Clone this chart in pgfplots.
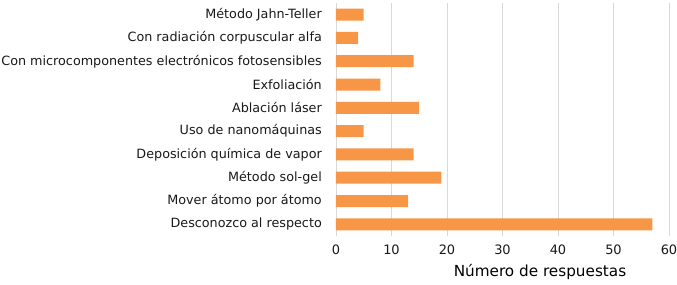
\documentclass[border=0pt]{standalone}
\usepackage{fontspec}
\setmainfont{DejaVu Sans}
\usepackage{pgfplots}
\pgfplotsset{compat=1.18}
\definecolor{barorange}{HTML}{F79646}
\definecolor{gridgray}{HTML}{D9D9D9}
\begin{document}
\begin{tikzpicture}
\begin{axis}[
  at={(0,0)}, anchor=south west,
  scale only axis, width=333bp, height=233bp,
  xbar, bar width=12bp,
  xmin=0, xmax=60, xtick={0,10,...,60},
  ymin=-0.5, ymax=9.5, ytick={0,...,9},
  yticklabels={Desconozco al respecto, Mover átomo por átomo, Método sol-gel, Deposición química de vapor, Uso de nanomáquinas, Ablación láser, Exfoliación, Con microcomponentes electrónicos fotosensibles, Con radiación corpuscular alfa, Método Jahn-Teller},
  axis lines*=left,
  x axis line style={draw=none},
  y axis line style={draw=gridgray, line width=0.8pt},
  xmajorgrids, grid style={draw=gridgray, line width=0.8pt},
  major tick length=0pt,
  /pgf/number format/assume math mode=true,
  yticklabel style={font=\fontsize{12.8}{15}\selectfont, text=black!90, inner sep=0pt, anchor=east, xshift=-14bp},
  xticklabel style={font=\fontsize{13}{15}\selectfont, text=black!90, inner sep=0pt, anchor=center, yshift=-14bp},
  xlabel={Número de respuestas},
  xlabel style={font=\fontsize{15.3}{17}\selectfont, at={(axis description cs:0.5,0)}, anchor=center, inner sep=0pt, xshift=37.5bp, yshift=-36bp},
]
\addplot[fill=barorange, draw=none] coordinates {
  (57,0) (13,1) (19,2) (14,3) (5,4) (15,5) (8,6) (14,7) (4,8) (5,9)
};
\end{axis}
\pgfresetboundingbox
\path (-336bp,-49bp) rectangle (341bp,236bp);
\end{tikzpicture}
\end{document}
